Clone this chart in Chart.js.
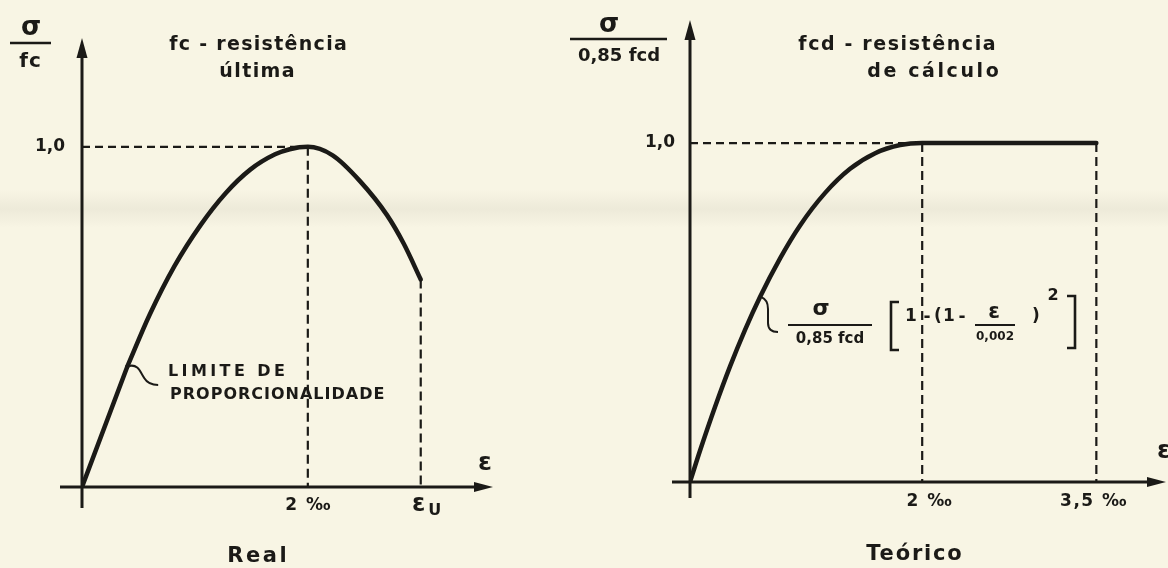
<!DOCTYPE html>
<html>
<head>
<meta charset="utf-8">
<script src="https://cdn.jsdelivr.net/npm/chart.js@4.4.1/dist/chart.umd.min.js"></script>
<style>
  html, body { margin: 0; padding: 0; background: #f8f5e4; }
  #sheet { position: relative; width: 1168px; height: 568px; overflow: hidden; background: #f8f5e4; }
  #smudge { position: absolute; left: 0; top: 190px; width: 1168px; height: 38px;
    background: linear-gradient(to bottom, rgba(110,105,90,0), rgba(110,105,90,0.08) 50%, rgba(110,105,90,0)); }
  canvas { position: absolute; left: 0; top: 0; }
</style>
</head>
<body>
<div id="sheet">
  <div id="smudge"></div>
  <canvas id="realChart" width="1168" height="568"></canvas>
  <canvas id="designChart" width="1168" height="568"></canvas>
</div>
<script>
// Real (measured) curve: strain in ‰, stress as σ / fc
const realLinearStrain = [0, 0.40];
const realLinearStress = [0, 0.353];
const realCurveStrain = [0.40, 0.60, 0.82, 1.05, 1.27, 1.49, 1.71, 1.84, 2.0, 2.22, 2.46, 2.70, 2.85, 3.0];
const realCurveStress = [0.353, 0.507, 0.65, 0.77, 0.863, 0.933, 0.978, 0.993, 1.0, 0.975, 0.90, 0.80, 0.715, 0.61];
const realXTicks = [2, 3];
const realXTickLabels = ['2 ‰', 'ε_u'];
const realYTicks = [1.0];
const realYTickLabels = ['1,0'];

// Design (parabola–rectangle) curve: strain in ‰, stress as σ / 0,85 fcd
const designStrain = [0, 0.086, 0.216, 0.345, 0.474, 0.603, 0.776, 0.948, 1.164, 1.379, 1.595, 1.810, 2.0, 3.5];
const designStress = [0, 0.092, 0.222, 0.341, 0.449, 0.546, 0.660, 0.757, 0.853, 0.924, 0.970, 0.994, 1.0, 1.0];
const designXTicks = [2, 3.5];
const designXTickLabels = ['2 ‰', '3,5 ‰'];
const designYTicks = [1.0];
const designYTickLabels = ['1,0'];

const INK = '#1b1a17';
const FONT = '"DejaVu Sans", "Liberation Sans", sans-serif';

const pts = (xs, ys) => xs.map((x, i) => ({ x, y: ys[i] }));

function text(ctx, s, x, y, size, o = {}) {
  const ls = o.ls || 0;
  const align = o.align || 'center';
  ctx.font = `${o.weight || 'bold'} ${size}px ${FONT}`;
  ctx.letterSpacing = ls + 'px';
  ctx.textAlign = align;
  ctx.textBaseline = 'middle';
  let dx = 0;
  if (align === 'center') dx = ls / 2;
  if (align === 'right') dx = ls;
  ctx.fillText(s, x + dx, y);
  ctx.letterSpacing = '0px';
}

// tick label; "_" marks a subscript
function tickLabel(ctx, s, x, y, size) {
  if (s.includes('_')) {
    const [main, sub] = s.split('_');
    text(ctx, main, x - 2, y - 1, size + 7);
    text(ctx, sub.toUpperCase(), x + 14, y + 5, size - 1);
  } else {
    text(ctx, s, x, y, size, { ls: 1.5 });
  }
}

function fracLine(ctx, x1, x2, y, w) {
  ctx.lineWidth = w;
  ctx.beginPath(); ctx.moveTo(x1, y); ctx.lineTo(x2, y); ctx.stroke();
}

function dashed(ctx, x1, y1, x2, y2, pattern) {
  ctx.setLineDash(pattern);
  ctx.lineWidth = 2.2;
  ctx.beginPath(); ctx.moveTo(x1, y1); ctx.lineTo(x2, y2); ctx.stroke();
  ctx.setLineDash([]);
}

// arrowed axes, dashed guides and tick labels for one diagram
function axesPlugin(cfg) {
  return {
    id: 'arrowAxes',
    beforeDatasetsDraw(chart) {
      const { ctx, scales: { x, y } } = chart;
      const ox = x.getPixelForValue(0), oy = y.getPixelForValue(0);
      ctx.save();
      ctx.strokeStyle = INK; ctx.fillStyle = INK;
      ctx.lineCap = 'butt';
      cfg.guides.forEach(g => {
        dashed(ctx, x.getPixelForValue(g[0]), y.getPixelForValue(g[1]),
                    x.getPixelForValue(g[2]), y.getPixelForValue(g[3]), g[4]);
      });
      ctx.lineWidth = 3;
      ctx.beginPath(); ctx.moveTo(ox, oy + cfg.below); ctx.lineTo(ox, y.top + 16); ctx.stroke();
      ctx.beginPath(); ctx.moveTo(ox - cfg.before, oy); ctx.lineTo(x.right - 16, oy); ctx.stroke();
      // arrow heads
      ctx.beginPath(); ctx.moveTo(ox, y.top); ctx.lineTo(ox - 5.5, y.top + 20); ctx.lineTo(ox + 5.5, y.top + 20); ctx.closePath(); ctx.fill();
      ctx.beginPath(); ctx.moveTo(x.right, oy); ctx.lineTo(x.right - 19, oy - 5); ctx.lineTo(x.right - 19, oy + 5); ctx.closePath(); ctx.fill();
      // tick labels
      cfg.xTicks.forEach((v, i) => tickLabel(ctx, cfg.xTickLabels[i], x.getPixelForValue(v) + cfg.xTickShift[i], oy + cfg.xTickGap, 17));
      cfg.yTicks.forEach((v, i) => text(ctx, cfg.yTickLabels[i], ox - cfg.yTickGap, y.getPixelForValue(v), 17, { align: 'right' }));
      ctx.restore();
    },
    afterDatasetsDraw(chart) {
      const { ctx } = chart;
      ctx.save();
      ctx.strokeStyle = INK; ctx.fillStyle = INK;
      cfg.decorate(ctx, chart);
      ctx.restore();
    }
  };
}

function baseOptions(pad, xMax, yMax) {
  return {
    responsive: false,
    devicePixelRatio: 1,
    animation: false,
    events: [],
    layout: { padding: pad },
    plugins: { legend: { display: false }, tooltip: { enabled: false } },
    scales: {
      x: { type: 'linear', min: 0, max: xMax, display: false },
      y: { type: 'linear', min: 0, max: yMax, display: false }
    }
  };
}

const curveStyle = {
  borderColor: INK, borderWidth: 4.5, pointRadius: 0, fill: false,
  borderCapStyle: 'round', borderJoinStyle: 'round'
};

// ---------- Real ----------
const peakIdx = realCurveStress.indexOf(Math.max(...realCurveStress));
const lastIdx = realCurveStrain.length - 1;

new Chart(document.getElementById('realChart'), {
  type: 'line',
  data: {
    datasets: [
      { ...curveStyle, data: pts(realLinearStrain, realLinearStress), tension: 0 },
      { ...curveStyle, data: pts(realCurveStrain, realCurveStress), cubicInterpolationMode: 'monotone' }
    ]
  },
  options: baseOptions({ left: 82, right: 675, top: 38, bottom: 81 }, 3.64, 1.32),
  plugins: [axesPlugin({
    below: 21, before: 22,
    xTicks: realXTicks, xTickLabels: realXTickLabels, xTickShift: [0, 0], xTickGap: 19,
    yTicks: realYTicks, yTickLabels: realYTickLabels, yTickGap: 17,
    guides: [
      [0, realCurveStress[peakIdx], realCurveStrain[peakIdx], realCurveStress[peakIdx], [8, 5]],
      [realCurveStrain[peakIdx], realCurveStress[peakIdx], realCurveStrain[peakIdx], 0, [9, 5]],
      [realCurveStrain[lastIdx], realCurveStress[lastIdx], realCurveStrain[lastIdx], 0, [9, 5]]
    ],
    decorate(ctx, chart) {
      const { x, y } = chart.scales;
      // axis names
      text(ctx, 'σ', 31, 28, 26);
      fracLine(ctx, 10, 51, 43, 2.5);
      text(ctx, 'fc', 30, 62, 20, { ls: 1 });
      text(ctx, 'ε', 485, 463, 25);
      // heading
      text(ctx, 'fc - resistência', 258, 45, 19, { ls: 1.3 });
      text(ctx, 'última', 257, 72, 19, { ls: 1.4 });
      // caption
      text(ctx, 'Real', 257, 557, 21, { ls: 2.6 });
      // proportional limit note
      const px = x.getPixelForValue(realLinearStrain[1]);
      const py = y.getPixelForValue(realLinearStress[1]);
      ctx.lineWidth = 2;
      ctx.beginPath();
      ctx.moveTo(px + 2, py - 1);
      ctx.bezierCurveTo(px + 11, py - 3, px + 13, py + 5, px + 17, py + 11);
      ctx.bezierCurveTo(px + 20, py + 16, px + 25, py + 18, px + 31, py + 18);
      ctx.stroke();
      text(ctx, 'LIMITE DE', 168, 372, 16, { align: 'left', ls: 3.4 });
      text(ctx, 'PROPORCIONALIDADE', 170, 395, 16, { align: 'left', ls: 1 });
    }
  })]
});

// ---------- Teórico ----------
const plateauStart = designStress.indexOf(1.0);
const plateauEnd = designStrain.length - 1;

new Chart(document.getElementById('designChart'), {
  type: 'line',
  data: {
    datasets: [
      { ...curveStyle, data: pts(designStrain, designStress), cubicInterpolationMode: 'monotone' }
    ]
  },
  options: baseOptions({ left: 690, right: 2, top: 20, bottom: 86 }, 4.1, 1.363),
  plugins: [axesPlugin({
    below: 16, before: 18,
    xTicks: designXTicks, xTickLabels: designXTickLabels, xTickShift: [7, -3], xTickGap: 20,
    yTicks: designYTicks, yTickLabels: designYTickLabels, yTickGap: 15,
    guides: [
      [0, designStress[plateauStart], designStrain[plateauStart], designStress[plateauStart], [8, 5]],
      [designStrain[plateauStart], designStress[plateauStart], designStrain[plateauStart], 0, [9, 5]],
      [designStrain[plateauEnd], designStress[plateauEnd], designStrain[plateauEnd], 0, [9, 5]]
    ],
    decorate(ctx, chart) {
      const { x, y } = chart.scales;
      // axis names
      text(ctx, 'σ', 609, 25, 26);
      fracLine(ctx, 570, 667, 39, 2.5);
      text(ctx, '0,85 fcd', 619, 56, 18);
      text(ctx, 'ε', 1164, 451, 25);
      // heading
      text(ctx, 'fcd - resistência', 897, 45, 19, { ls: 1.6 });
      text(ctx, 'de cálculo', 933, 72, 19, { ls: 2.6 });
      // caption
      text(ctx, 'Teórico', 914, 555, 21, { ls: 1.8 });
      // formula pointer
      const cx = x.getPixelForValue(designStrain[5]);
      const cy = y.getPixelForValue(designStress[5]);
      ctx.lineWidth = 2;
      ctx.beginPath();
      ctx.moveTo(cx + 1, cy);
      ctx.bezierCurveTo(cx + 6, cy + 2, cx + 8, cy + 6, cx + 8, cy + 12);
      ctx.lineTo(cx + 8, cy + 26);
      ctx.bezierCurveTo(cx + 8, cy + 32, cx + 12, cy + 35, cx + 18, cy + 35);
      ctx.stroke();
      // σ / 0,85 fcd [ 1 - ( 1 - ε / 0,002 )² ]
      text(ctx, 'σ', 821, 309, 22);
      fracLine(ctx, 788, 872, 325, 2);
      text(ctx, '0,85 fcd', 830, 339, 15);
      ctx.lineWidth = 2.6;
      ctx.beginPath(); ctx.moveTo(899, 302); ctx.lineTo(891, 302); ctx.lineTo(891, 350); ctx.lineTo(899, 350); ctx.stroke();
      text(ctx, '1', 911, 317, 17);
      text(ctx, '-', 927, 318, 17);
      text(ctx, '(', 938, 317, 17);
      text(ctx, '1', 949, 317, 17);
      text(ctx, '-', 962, 318, 17);
      text(ctx, 'ε', 994, 313, 21);
      fracLine(ctx, 975, 1015, 325, 2);
      text(ctx, '0,002', 995, 337, 12);
      text(ctx, ')', 1036, 317, 17);
      text(ctx, '2', 1053, 296, 16);
      ctx.lineWidth = 2.6;
      ctx.beginPath(); ctx.moveTo(1067, 296); ctx.lineTo(1075, 296); ctx.lineTo(1075, 348); ctx.lineTo(1067, 348); ctx.stroke();
    }
  })]
});
</script>
</body>
</html>
